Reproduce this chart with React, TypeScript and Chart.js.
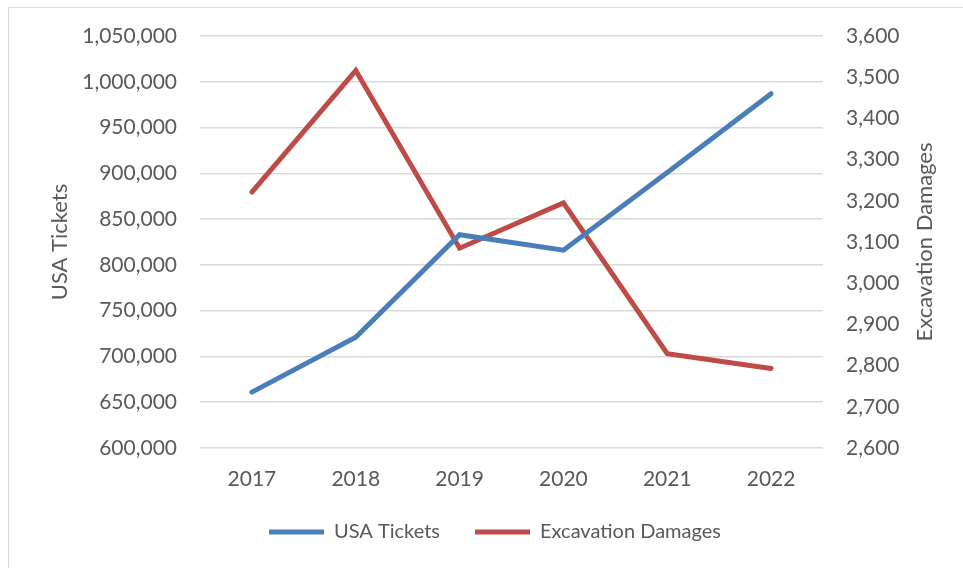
import React, { useEffect, useRef } from "react";
import { Chart, registerables } from "chart.js";

Chart.register(...registerables);

const years = ["2017", "2018", "2019", "2020", "2021", "2022"];
const usaTickets = [661000, 721000, 833000, 816000, 901000, 987000];
const excavationDamages = [3221, 3516, 3085, 3195, 2829, 2793];
const ticketTicks = [600000, 650000, 700000, 750000, 800000, 850000, 900000, 950000, 1000000, 1050000];
const damageTicks = [2600, 2700, 2800, 2900, 3000, 3100, 3200, 3300, 3400, 3500, 3600];
const leftTitle = "USA Tickets";
const rightTitle = "Excavation Damages";

const FONT = "Lato, 'Noto Sans', sans-serif";
const TEXT = "#595959";
const BLUE = "#4a7ebb";
const RED = "#be4b48";

const rightTitlePlugin = {
  id: "rightTitle",
  afterDraw(chart: any) {
    const s = chart.scales.y1;
    if (!s) return;
    const ctx = chart.ctx;
    ctx.save();
    ctx.font = `22px ${FONT}`;
    ctx.fillStyle = TEXT;
    ctx.textAlign = "center";
    ctx.textBaseline = "middle";
    ctx.translate(s.right - 38, (s.top + s.bottom) / 2);
    ctx.rotate(-Math.PI / 2);
    ctx.fillText(rightTitle, 0, 0);
    ctx.restore();
  },
};

export default function App() {
  const ref = useRef<HTMLCanvasElement | null>(null);

  useEffect(() => {
    if (!ref.current) return;
    const fmt = (v: any) => Number(v).toLocaleString("en-US");
    const chart = new Chart(ref.current, {
      type: "line",
      data: {
        labels: years,
        datasets: [
          {
            label: "USA Tickets",
            data: usaTickets,
            borderColor: BLUE,
            backgroundColor: BLUE,
            borderWidth: 5,
            pointRadius: 0,
            tension: 0,
            yAxisID: "y",
            borderCapStyle: "round",
            borderJoinStyle: "miter",
          },
          {
            label: "Excavation Damages",
            data: excavationDamages,
            borderColor: RED,
            backgroundColor: RED,
            borderWidth: 5,
            pointRadius: 0,
            tension: 0,
            yAxisID: "y1",
            borderCapStyle: "round",
            borderJoinStyle: "miter",
          },
        ],
      },
      options: {
        responsive: false,
        animation: false,
        devicePixelRatio: 1,
        layout: { padding: { top: 28, left: 18, right: 0, bottom: 16 } },
        plugins: {
          tooltip: { enabled: false },
          legend: {
            position: "bottom",
            labels: {
              usePointStyle: true,
              pointStyle: "line",
              pointStyleWidth: 55,
              padding: 35,
              color: TEXT,
              font: { family: FONT, size: 20 },
            },
          },
        },
        scales: {
          x: {
            offset: true,
            grid: { display: false, drawTicks: false },
            border: { display: false },
            ticks: { color: TEXT, font: { family: FONT, size: 21 }, padding: 19 },
            afterFit: (s: any) => {
              s.height = 39;
              s.paddingLeft = 0;
              s.paddingRight = 0;
            },
          },
          y: {
            position: "left",
            min: ticketTicks[0],
            max: ticketTicks[ticketTicks.length - 1],
            afterBuildTicks: (s: any) => {
              s.ticks = ticketTicks.map((v) => ({ value: v }));
            },
            grid: { color: "#d9d9d9", lineWidth: 1.5, drawTicks: false },
            border: { display: false },
            ticks: { color: TEXT, font: { family: FONT, size: 21 }, padding: 23, callback: fmt },
            title: {
              display: true,
              text: leftTitle,
              color: TEXT,
              font: { family: FONT, size: 22 },
              padding: { top: 20, bottom: 0 },
            },
            afterFit: (s: any) => {
              s.width = 173;
              s.paddingTop = 0;
              s.paddingBottom = 0;
            },
          },
          y1: {
            position: "right",
            min: damageTicks[0],
            max: damageTicks[damageTicks.length - 1],
            afterBuildTicks: (s: any) => {
              s.ticks = damageTicks.map((v) => ({ value: v }));
            },
            grid: { display: false, drawTicks: false },
            border: { display: false },
            ticks: { color: TEXT, font: { family: FONT, size: 21 }, padding: 23, callback: fmt },
            afterFit: (s: any) => {
              s.width = 140;
              s.paddingTop = 0;
              s.paddingBottom = 0;
            },
          },
        },
      },
      plugins: [rightTitlePlugin],
    } as any);
    return () => chart.destroy();
  }, []);

  return (
    <div
      style={{
        position: "fixed",
        left: 8,
        top: 7,
        width: 955,
        height: 561,
        borderLeft: "1px solid #d9d9d9",
        borderTop: "1px solid #d9d9d9",
        boxSizing: "border-box",
        background: "#fff",
      }}
    >
      <canvas ref={ref} width={954} height={560} style={{ display: "block" }} />
    </div>
  );
}
